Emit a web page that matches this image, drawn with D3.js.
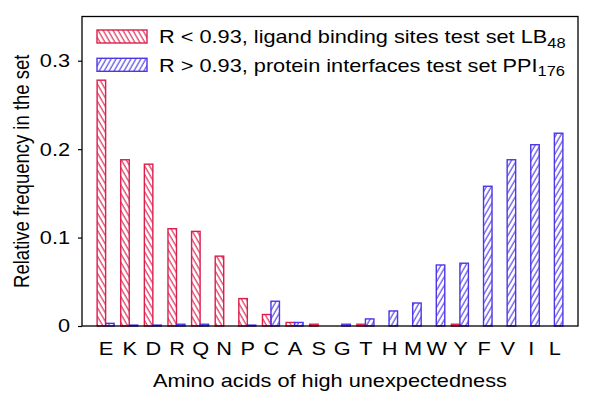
<!DOCTYPE html>
<html>
<head>
<meta charset="utf-8">
<script src="https://cdn.jsdelivr.net/npm/d3@7"></script>
<style>
  body { margin: 0; background: #fff; }
  text { font-family: "Liberation Sans", Arial, sans-serif; fill: #000; }
</style>
</head>
<body>
<div id="chart"></div>
<script>
// chart data
var aminoAcids = ["E", "K", "D", "R", "Q", "N", "P", "C", "A", "S", "G", "T", "H", "M", "W", "Y", "F", "V", "I", "L"];
var ligandValues = [0.278, 0.188, 0.183, 0.110, 0.107, 0.079, 0.031, 0.013, 0.004, 0.002, 0, 0.002, 0, 0, 0, 0.002, 0, 0, 0, 0];
var proteinValues = [0.003, 0.001, 0.001, 0.002, 0.002, 0, 0.001, 0.028, 0.004, 0, 0.002, 0.008, 0.017, 0.026, 0.069, 0.071, 0.158, 0.188, 0.205, 0.218];
var yTicks = [0, 0.1, 0.2, 0.3];
var legendLabels = ["R < 0.93, ligand binding sites test set LB", "R > 0.93, protein interfaces test set PPI"];
var legendSubs = ["48", "176"];

var svgWidth = 600;
var svgHeight = 403;
var margin = { top: 16.5, right: 22, bottom: 77, left: 82 };
var chartWidth = svgWidth - margin.left - margin.right;
var chartHeight = svgHeight - margin.top - margin.bottom;

// the original text is a bit wider than it is tall
var stretch = 1.175;
var fontSize = "18.5px";

var red = "#dc1e4b";
var blue = "#4b36e8";

var svg = d3.select("#chart")
  .append("svg")
  .attr("width", svgWidth)
  .attr("height", svgHeight);

// hatch patterns
var defs = svg.append("defs");
function hatch(id, color, angle) {
  var p = defs.append("pattern")
    .attr("id", id)
    .attr("patternUnits", "userSpaceOnUse")
    .attr("width", 4.3)
    .attr("height", 10)
    .attr("patternTransform", "rotate(" + angle + ")");
  p.append("line")
    .attr("x1", 1).attr("y1", 0)
    .attr("x2", 1).attr("y2", 10)
    .attr("stroke", color)
    .attr("stroke-width", 1.1);
}
hatch("hatchRed", red, -30);
hatch("hatchBlue", blue, 30);

var chartGroup = svg.append("g")
  .attr("transform", `translate(${margin.left}, ${margin.top})`);

// index positions, like an xrange of [-1:20]
var xScale = d3.scaleLinear()
  .domain([-1, aminoAcids.length])
  .range([0, chartWidth]);

var yScale = d3.scaleLinear()
  .domain([0, 0.35])
  .range([chartHeight, 0]);

var barW = xScale(0.36) - xScale(0);

// bars (zero values are not drawn)
function drawBars(values, fillId, color, offset) {
  chartGroup.append("g").selectAll("rect")
    .data(values.map((v, i) => ({ v: v, i: i })).filter(d => d.v > 0))
    .enter()
    .append("rect")
    .attr("x", d => xScale(d.i) + offset * barW)
    .attr("y", d => yScale(d.v))
    .attr("width", barW)
    .attr("height", d => chartHeight - yScale(d.v))
    .attr("fill", "url(#" + fillId + ")")
    .attr("stroke", color)
    .attr("stroke-width", 1.4);
}
drawBars(ligandValues, "hatchRed", red, -1);
drawBars(proteinValues, "hatchBlue", blue, 0);

// y axis
var leftAxis = d3.axisLeft(yScale)
  .tickValues(yTicks)
  .tickSize(4)
  .tickPadding(6.2)
  .tickFormat(d => d === 0 ? "0" : d3.format(".1f")(d));
var yAxisG = chartGroup.append("g").call(leftAxis);
yAxisG.select(".domain").remove();
yAxisG.selectAll("line").attr("stroke", "#000").attr("stroke-width", 1.2);
yAxisG.selectAll("text")
  .attr("font-size", fontSize)
  .attr("font-family", "Liberation Sans, Arial, sans-serif")
  .attr("transform", `scale(${stretch}, 1)`);

// x axis labels
var bottomAxis = d3.axisBottom(xScale)
  .tickValues(d3.range(aminoAcids.length))
  .tickSize(0)
  .tickPadding(16)
  .tickFormat(i => aminoAcids[i]);
var xAxisG = chartGroup.append("g")
  .attr("transform", `translate(0, ${chartHeight})`)
  .call(bottomAxis);
xAxisG.select(".domain").remove();
xAxisG.selectAll("text")
  .attr("font-size", fontSize)
  .attr("font-family", "Liberation Sans, Arial, sans-serif")
  .attr("transform", `scale(${stretch}, 1)`);

// frame
chartGroup.append("rect")
  .attr("x", 0).attr("y", 0)
  .attr("width", chartWidth)
  .attr("height", chartHeight)
  .attr("fill", "none")
  .attr("stroke", "#000")
  .attr("stroke-width", 1.3);

// legend
var legendColors = [red, blue];
var legendFills = ["hatchRed", "hatchBlue"];
legendLabels.forEach(function(label, k) {
  var y0 = 30 + k * 28.3;
  svg.append("rect")
    .attr("x", 97).attr("y", y0)
    .attr("width", 50).attr("height", 13)
    .attr("fill", "url(#" + legendFills[k] + ")")
    .attr("stroke", legendColors[k])
    .attr("stroke-width", 1.4);
  var t = svg.append("text")
    .attr("transform", `translate(159, ${y0 + 13.4}) scale(${stretch}, 1)`)
    .attr("font-size", fontSize);
  t.append("tspan").text(label);
  t.append("tspan").attr("font-size", "14px").attr("dy", 4.5).text(legendSubs[k]);
});

// axis titles
svg.append("text")
  .attr("transform", `translate(${margin.left + chartWidth / 2}, 387) scale(${stretch}, 1)`)
  .attr("text-anchor", "middle")
  .attr("font-size", fontSize)
  .text("Amino acids of high unexpectedness");

svg.append("text")
  .attr("transform", `translate(29, ${margin.top + chartHeight / 2}) rotate(-90) scale(1, ${stretch})`)
  .attr("text-anchor", "middle")
  .attr("font-size", fontSize)
  .text("Relative frequency in the set");
</script>
</body>
</html>
